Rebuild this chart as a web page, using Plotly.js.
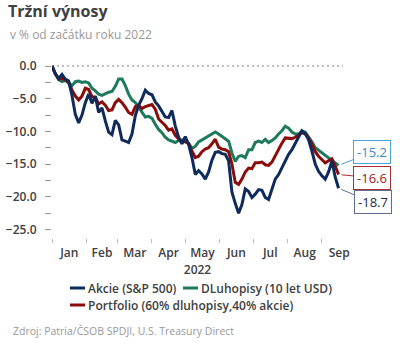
<!DOCTYPE html>
<html>
<head>
<meta charset="utf-8">
<script src="https://cdn.plot.ly/plotly-3.0.1.min.js"></script>
<style>html,body{margin:0;padding:0;background:#fff;}#chart{width:400px;height:350px;}</style>
</head>
<body>
<div id="chart"></div>
<script>
const dates = [
'2022-01-01','2022-01-04','2022-01-07','2022-01-10','2022-01-13','2022-01-16','2022-01-19','2022-01-22','2022-01-25','2022-01-28','2022-01-31',
'2022-02-03','2022-02-06','2022-02-09','2022-02-12','2022-02-15','2022-02-18','2022-02-21','2022-02-24','2022-02-27',
'2022-03-02','2022-03-05','2022-03-08','2022-03-11','2022-03-14','2022-03-17','2022-03-20','2022-03-23','2022-03-26','2022-03-29',
'2022-04-01','2022-04-04','2022-04-07','2022-04-10','2022-04-13','2022-04-16','2022-04-19','2022-04-22','2022-04-25','2022-04-28',
'2022-05-01','2022-05-04','2022-05-07','2022-05-10','2022-05-13','2022-05-16','2022-05-19','2022-05-22','2022-05-25','2022-05-28','2022-05-31',
'2022-06-03','2022-06-06','2022-06-09','2022-06-12','2022-06-15','2022-06-18','2022-06-21','2022-06-24','2022-06-27','2022-06-30',
'2022-07-03','2022-07-06','2022-07-09','2022-07-12','2022-07-15','2022-07-18','2022-07-21','2022-07-24','2022-07-27','2022-07-30',
'2022-08-02','2022-08-05','2022-08-08','2022-08-11','2022-08-14','2022-08-17','2022-08-20','2022-08-23','2022-08-26','2022-08-29',
'2022-09-01','2022-09-04','2022-09-07','2022-09-10','2022-09-13','2022-09-16'
];

const akcie = [
0.0,-1.2,-1.9,-1.3,-2.0,-2.3,-4.5,-7.4,-8.7,-7.5,-5.6,
-4.3,-5.7,-4.6,-7.1,-6.4,-8.4,-10.1,-10.5,-8.3,
-9.0,-11.3,-11.5,-11.7,-10.4,-7.6,-6.0,-5.0,-3.7,-4.2,
-4.4,-5.5,-6.1,-7.0,-7.8,-7.9,-6.8,-9.2,-10.9,-11.9,
-10.8,-12.0,-14.0,-16.6,-16.0,-16.5,-17.3,-16.2,-14.4,-13.2,-13.1,
-13.4,-13.5,-14.5,-19.3,-21.0,-22.5,-21.2,-18.8,-19.2,-20.1,
-19.6,-18.9,-19.0,-20.1,-20.4,-18.8,-17.3,-16.6,-15.5,-14.4,
-13.5,-12.8,-11.8,-10.8,-9.9,-10.3,-11.3,-13.0,-15.0,-16.1,
-16.8,-17.3,-16.2,-14.5,-17.0,-18.7
];

const dluhopisy = [
0.0,-1.2,-2.1,-2.4,-2.2,-2.6,-3.0,-2.4,-2.3,-2.5,-2.4,
-2.6,-3.4,-3.8,-4.3,-4.5,-4.2,-4.0,-3.9,-3.1,
-2.0,-2.0,-3.0,-4.3,-5.2,-5.6,-6.3,-7.1,-7.8,-7.7,
-8.0,-8.9,-9.7,-10.2,-10.9,-11.3,-11.5,-11.7,-11.4,-11.3,
-11.6,-11.8,-12.6,-12.3,-11.6,-11.3,-11.0,-10.6,-10.3,-10.1,-10.4,
-10.8,-11.1,-11.5,-13.3,-14.6,-13.8,-13.7,-14.0,-12.8,-12.8,
-11.7,-11.5,-11.7,-11.2,-11.7,-11.4,-11.0,-10.4,-9.9,-9.2,
-9.5,-10.1,-10.4,-10.4,-10.0,-10.1,-10.8,-11.6,-12.5,-12.9,
-13.2,-13.6,-14.1,-14.4,-14.8,-15.2
];

const portfolio = [
0.0,-1.2,-2.0,-1.9,-2.1,-2.5,-3.7,-4.6,-5.2,-4.6,-3.4,
-3.6,-4.7,-4.8,-5.8,-5.5,-6.0,-6.8,-6.7,-5.6,
-5.1,-5.6,-6.3,-7.1,-7.4,-6.2,-6.0,-6.5,-6.2,-6.0,
-5.9,-6.6,-8.1,-8.6,-9.1,-9.8,-9.6,-10.6,-11.2,-11.7,
-11.5,-11.9,-13.0,-14.0,-13.8,-13.1,-12.7,-12.5,-11.9,-11.2,-12.4,
-12.7,-12.8,-13.1,-15.0,-17.8,-18.1,-17.3,-16.2,-15.6,-15.7,
-14.8,-14.8,-14.7,-15.1,-15.2,-14.7,-13.7,-12.8,-11.8,-11.0,
-11.1,-11.1,-10.9,-10.6,-10.2,-10.4,-11.0,-11.9,-13.1,-13.8,
-14.3,-14.8,-14.5,-14.2,-15.3,-16.6
];

const seriesNames = ['Akcie (S&P 500)', 'DLuhopisy (10 let USD)', 'Portfolio (60% dluhopisy,40% akcie)'];
const monthTickFormat = '%b';   // Jan, Feb, ... Sep

const cNavy = '#0e2b5c', cGreen = '#1d7a5c', cRed = '#8b0a0a';
const FONT = 'Open Sans, Noto Sans, sans-serif';
const last = dates.length - 1;

// plot box in pixels (for placing the text outside the plot)
const PL = 52, PR = 343, PT = 56, PB = 238;
const px = v => (v - PL) / (PR - PL);
const py = v => (PB - v) / (PB - PT);

const traces = [
  {x: dates, y: dluhopisy, name: seriesNames[1], type: 'scatter', mode: 'lines',
   line: {color: cGreen, width: 3}},
  {x: dates, y: portfolio, name: seriesNames[2], type: 'scatter', mode: 'lines',
   line: {color: cRed, width: 3}},
  {x: dates, y: akcie, name: seriesNames[0], type: 'scatter', mode: 'lines',
   line: {color: cNavy, width: 3}}
];

function callout(val, ax, ay, txtColor, borderColor) {
  return {
    x: dates[last], y: val, xref: 'x', yref: 'y',
    text: val.toFixed(1), showarrow: true, arrowhead: 0, arrowwidth: 1,
    arrowcolor: borderColor, ax: ax, ay: ay, standoff: 3,
    bordercolor: borderColor, borderwidth: 1, borderpad: 3, bgcolor: '#fff',
    width: 30, height: 16, align: 'center',
    font: {family: FONT, size: 13, color: txtColor}
  };
}

// legend built from the series names
const legendItems = [
  {name: seriesNames[0], color: cNavy, x: 70, y: 288},
  {name: seriesNames[1], color: cGreen, x: 183, y: 288},
  {name: seriesNames[2], color: cRed, x: 70, y: 305}
];
const legendShapes = legendItems.map(it => ({
  type: 'line', xref: 'paper', yref: 'paper', x0: px(it.x), x1: px(it.x + 15), y0: py(it.y), y1: py(it.y),
  line: {color: it.color, width: 3}
}));
const legendTexts = legendItems.map(it => ({
  text: it.name, xref: 'paper', yref: 'paper', x: px(it.x + 16), xanchor: 'left',
  y: py(it.y), yanchor: 'middle', showarrow: false,
  font: {family: FONT, size: 12, color: '#404040', weight: 600}
}));

const layout = {
  width: 400, height: 350,
  margin: {l: PL, r: 400 - PR, t: PT, b: 350 - PB},
  paper_bgcolor: '#fff', plot_bgcolor: '#fff',
  font: {family: FONT, color: '#404040'},
  title: {
    text: '<b>Tržní výnosy</b>', x: 8/400, xanchor: 'left', xref: 'container',
    y: 1 - 6/350, yanchor: 'top', yref: 'container',
    font: {family: FONT, size: 16, color: '#404040'}
  },
  showlegend: false,
  xaxis: {
    type: 'date', range: ['2022-01-01', '2022-09-20'],
    tick0: '2022-01-01', dtick: 'M1', tickformat: monthTickFormat, ticklabelmode: 'period',
    ticks: 'outside', ticklen: 4, tickcolor: '#bbb', tickwidth: 1,
    showgrid: false, zeroline: false, showline: false,
    tickfont: {family: FONT, size: 12, color: '#404040', weight: 600},
    title: {text: '2022', font: {family: FONT, size: 12, color: '#404040', weight: 600}, standoff: 3}
  },
  yaxis: {
    range: [-26.3, 1.53], dtick: 5, tick0: 0, tickformat: '.1f',
    ticks: 'outside', ticklen: 6, tickcolor: '#999', tickwidth: 1,
    minor: {dtick: 2.5, tick0: 0, ticks: 'outside', ticklen: 6, tickcolor: '#999', showgrid: false},
    showgrid: false, zeroline: false, showline: false, ticklabelstandoff: 6,
    tickfont: {family: FONT, size: 12, color: '#404040', weight: 600}
  },
  shapes: [
    {type: 'line', xref: 'paper', x0: 0, x1: 1, yref: 'y', y0: 0, y1: 0,
     line: {color: '#aaa', width: 1.5, dash: '2px,3px'}, layer: 'below'}
  ].concat(legendShapes),
  annotations: [
    callout(dluhopisy[last], 33, -13, '#3a8cc4', '#4aa6d6'),
    callout(portfolio[last], 33, 3, '#a02020', '#a83232'),
    callout(akcie[last], 34, 14, '#1c2c4c', '#5c6e8c'),
    {text: 'v % od začátku roku 2022', xref: 'paper', yref: 'paper',
     x: px(8), xanchor: 'left', y: py(35), yanchor: 'middle', showarrow: false,
     font: {family: FONT, size: 12, color: '#999'}},
    {text: 'Zdroj: Patria/ČSOB SPDJI, U.S. Treasury Direct', xref: 'paper', yref: 'paper',
     x: px(11), xanchor: 'left', y: py(331), yanchor: 'middle', showarrow: false,
     font: {family: FONT, size: 10.5, color: '#999'}}
  ].concat(legendTexts)
};

Plotly.newPlot('chart', traces, layout, {displayModeBar: false, staticPlot: true});
</script>
</body>
</html>
